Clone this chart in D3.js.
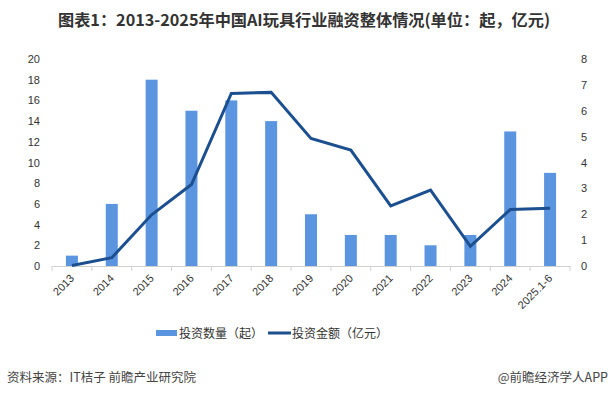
<!DOCTYPE html>
<html><head><meta charset="utf-8">
<script src="https://cdn.jsdelivr.net/npm/d3@7"></script>
<style>body{margin:0;background:#fff;}svg{display:block;font-family:"Noto Sans CJK SC","Liberation Sans",sans-serif;}</style>
</head><body>
<svg id="c" width="611" height="396"></svg>
<script>
const categories = ["2013","2014","2015","2016","2017","2018","2019","2020","2021","2022","2023","2024","2025.1-6"];
const countValues = [1,6,18,15,16,14,5,3,3,2,3,13,9];
const amountValues = [0.02,0.32,1.98,3.15,6.67,6.71,4.93,4.48,2.32,2.93,0.76,2.18,2.23];
const leftTicks = [0,2,4,6,8,10,12,14,16,18,20];
const rightTicks = [0,1,2,3,4,5,6,7,8];
const seriesNames = ["投资数量（起）","投资金额（亿元）"];
const titleText = "图表1：2013-2025年中国AI玩具行业融资整体情况(单位：起，亿元)";
const sourceText = "资料来源：IT桔子 前瞻产业研究院";
const creditText = "@前瞻经济学人APP";

(function(){
const svg = d3.select("#c");
const barColor = "#5b95e0", lineColor = "#1c4f8f";
const pL = 52, pR = 570, pT = 59, pB = 266;

const x = d3.scaleBand().domain(categories).range([pL, pR]);
const yL = d3.scaleLinear().domain([0,20]).range([pB, pT]);
const yR = d3.scaleLinear().domain([0,8]).range([pB, pT]);

svg.append("text").attr("x", 304).attr("y", 26).attr("text-anchor","middle")
  .attr("font-size", 16).attr("font-weight","bold").attr("fill","#333")
  .attr("textLength", 492).attr("lengthAdjust","spacingAndGlyphs").text(titleText);

const gl = svg.append("g").attr("transform", `translate(${pL},0)`)
  .call(d3.axisLeft(yL).tickValues(leftTicks).tickSize(0).tickPadding(12));
gl.select(".domain").remove();
gl.selectAll("text").attr("font-size", 11).attr("fill","#333").attr("font-family","Liberation Sans, sans-serif");

const gr = svg.append("g").attr("transform", `translate(${pR},0)`)
  .call(d3.axisRight(yR).tickValues(rightTicks).tickSize(0).tickPadding(11));
gr.select(".domain").remove();
gr.selectAll("text").attr("font-size", 11).attr("fill","#333").attr("font-family","Liberation Sans, sans-serif");

svg.append("g").selectAll("rect").data(categories).join("rect")
  .attr("x", d => x(d) + x.bandwidth()/2 - 6)
  .attr("width", 12)
  .attr("y", (d,i) => yL(countValues[i]))
  .attr("height", (d,i) => pB - yL(countValues[i]))
  .attr("fill", barColor);

const gx = svg.append("g").attr("transform", `translate(0,${pB})`)
  .call(d3.axisBottom(x).tickSize(0).tickPadding(0));
gx.select(".domain").attr("stroke","#d0d0d0");
gx.selectAll(".tick line").remove();
const bounds = categories.map(c => x(c)).concat([pR]);
gx.selectAll("line.b").data(bounds).join("line").attr("class","b")
  .attr("x1", d => d).attr("x2", d => d).attr("y1", 0).attr("y2", 5).attr("stroke","#d0d0d0");
gx.selectAll(".tick text").attr("font-size", 11).attr("fill","#333")
  .attr("font-family","Liberation Sans, sans-serif")
  .attr("text-anchor","end").attr("dy", 0)
  .attr("transform","translate(3,13) rotate(-45)");

const line = d3.line().x((d,i) => x(categories[i]) + x.bandwidth()/2).y(d => yR(d));
svg.append("path").datum(amountValues).attr("d", line).attr("fill","none")
  .attr("stroke", lineColor).attr("stroke-width", 3).attr("stroke-linejoin","miter");

const lg = svg.append("g");
lg.append("rect").attr("x",156).attr("y",330).attr("width",21).attr("height",6).attr("fill",barColor);
lg.append("text").attr("x",179).attr("y",337.5).attr("font-size",12).attr("fill","#333").text(seriesNames[0]);
lg.append("line").attr("x1",268).attr("x2",291).attr("y1",333).attr("y2",333).attr("stroke",lineColor).attr("stroke-width",3);
lg.append("text").attr("x",292).attr("y",337.5).attr("font-size",12).attr("fill","#333").text(seriesNames[1]);

svg.append("text").attr("x",7).attr("y",382).attr("font-size",12.5).attr("fill","#444").text(sourceText);
svg.append("text").attr("x",608).attr("y",382).attr("text-anchor","end").attr("font-size",12.5).attr("fill","#444").text(creditText);
})();
</script>
</body></html>
